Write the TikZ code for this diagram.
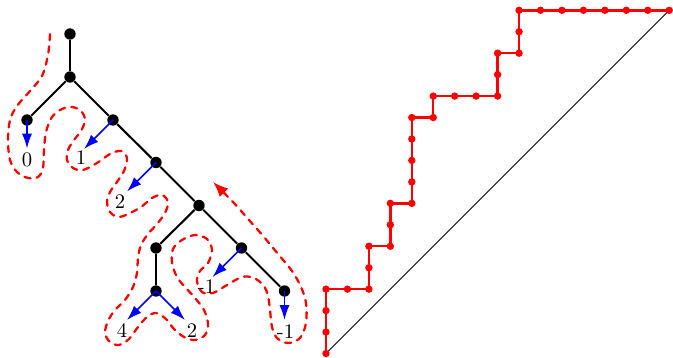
\documentclass[tikz,border=0pt]{standalone}
\usetikzlibrary{arrows.meta}
\begin{document}
\begin{tikzpicture}[x=0.484pt,y=-0.484pt,
  tdot/.style={circle,fill=black,inner sep=0pt,minimum size=5.5pt},
  tedge/.style={line width=1pt},
  barrow/.style={blue,line width=0.8pt,-{Latex[length=7.2pt,width=4.9pt]}},
  lab/.style={inner sep=0pt},
  contour/.style={red,line width=1.1pt,dash pattern=on 3pt off 3pt,line cap=round,-{Latex[length=7.4pt,width=5.8pt]}},
  lpath/.style={red,line width=1.2pt},
  ldot/.style={red},
  diag/.style={black,line width=0.4pt}]
\useasboundingbox (0,0) rectangle (673,358);

% tree nodes
\node[tdot] (r) at (70,34) {};
\node[tdot] (a) at (70,77) {};
\node[tdot] (b) at (27,120) {};
\node[tdot] (c) at (113,120) {};
\node[tdot] (d) at (156,162.5) {};
\node[tdot] (e) at (199,205.5) {};
\node[tdot] (f) at (156,248) {};
\node[tdot] (g) at (241.5,248) {};
\node[tdot] (h) at (156,291) {};
\node[tdot] (i) at (284.5,291) {};

\draw[tedge] (r) -- (a);
\draw[tedge] (a) -- (b);
\draw[tedge] (a) -- (c);
\draw[tedge] (c) -- (d);
\draw[tedge] (d) -- (e);
\draw[tedge] (e) -- (f);
\draw[tedge] (e) -- (g);
\draw[tedge] (f) -- (h);
\draw[tedge] (g) -- (i);

% labels
\node[lab] (lb) at (27,160) {0};
\node[lab] (lc) at (81,157.5) {1};
\node[lab] (ld) at (120,202) {2};
\node[lab] (lh1) at (122,330.5) {4};
\node[lab] (lh2) at (192,330.5) {2};
\node[lab] (lg) at (206.5,287) {-1};
\node[lab] (li) at (285.5,331.5) {-1};

% arrow tips
\coordinate (tb) at (27,148.5);
\coordinate (tc) at (84,149);
\coordinate (td) at (127,191.5);
\coordinate (th1) at (127,320);
\coordinate (th2) at (185,320);
\coordinate (tg) at (212.5,277);
\coordinate (ti) at (284.5,320);

\draw[barrow] (b.center) -- (tb);
\draw[barrow] (c.center) -- (tc);
\draw[barrow] (d.center) -- (td);
\draw[barrow] (h.center) -- (th1);
\draw[barrow] (h.center) -- (th2);
\draw[barrow] (g.center) -- (tg);
\draw[barrow] (i.center) -- (ti);

% contour
\draw[contour] plot[smooth,tension=0.55] coordinates {
(50,34)(48,55)(42,76)(30,91)(17,106)(10,120)(8,140)(10,160)(17,172)(28,178)(38,177)(43,168)(44,150)(46,132)(52,117)(62,109)(72,107)(81,111)(85,120)(81,131)(74,140)(68,150)(67,160)(73,168)(83,170)(97,163)(110,154)(121,151)(127,158)(124,171)(117,182)(110,192)(107,202)(110,212)(118,217)(128,214)(141,207)(152,198)(162,195)(168,202)(165,213)(157,224)(148,234)(141,245)(138,258)(137,273)(133,287)(125,300)(115,310)(108,321)(105,333)(110,342)(119,345)(129,339)(138,327)(147,317)(156,313)(166,319)(174,329)(184,337)(195,340)(205,335)(208,324)(204,310)(195,298)(185,287)(177,277)(172,263)(173,249)(182,240)(195,235)(207,239)(212,250)(208,263)(200,271)(197,281)(202,292)(213,293)(227,285)(242,277)(254,278)(264,286)(268,296)(270,310)(272,327)(277,338)(288,343)(300,338)(306,323)(306,303)(301,287)(292,271)(278,254)(264,237)(249,220)(233,202)(213,182)};

% lattice path
\begin{scope}[shift={(157.78pt,-171.09pt)},x=10.382pt,y=10.382pt]
\draw[diag] (0,0) -- (16,16);
\draw[lpath] plot coordinates {(0,0)(0,1)(0,2)(0,3)(1,3)(2,3)(2,4)(2,5)(3,5)(3,6)(3,7)(4,7)(4,8)(4,9)(4,10)(4,11)(5,11)(5,12)(6,12)(7,12)(8,12)(8,13)(8,14)(9,14)(9,15)(9,16)(10,16)(11,16)(12,16)(13,16)(14,16)(15,16)(16,16)};
\foreach \px/\py in {0/0,0/1,0/2,0/3,1/3,2/3,2/4,2/5,3/5,3/6,3/7,4/7,4/8,4/9,4/10,4/11,5/11,5/12,6/12,7/12,8/12,8/13,8/14,9/14,9/15,9/16,10/16,11/16,12/16,13/16,14/16,15/16,16/16}
  \fill[ldot] (\px,\py) circle (1.8pt);
\end{scope}
\end{tikzpicture}
\end{document}
